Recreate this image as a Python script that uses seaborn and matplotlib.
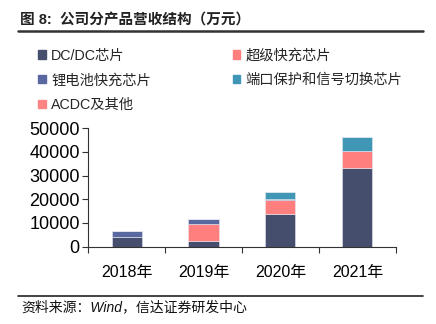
import matplotlib
matplotlib.use("Agg")
import matplotlib.pyplot as plt
import seaborn as sns
import pandas as pd
import numpy as np

sns.set_theme(style="white")
plt.rcParams['font.family'] = ['Liberation Sans', 'Noto Sans CJK SC', 'DejaVu Sans']

years = ["2018年", "2019年", "2020年", "2021年"]
series_names = ["DC/DC芯片", "锂电池快充芯片", "ACDC及其他", "超级快充芯片", "端口保护和信号切换芯片"]
dcdc = [4000, 2450, 13700, 33100]
superfast = [0, 7050, 6000, 7300]
lithium = [2700, 2000, 600, 0]
port = [0, 0, 2700, 5800]
acdc = [0, 0, 0, 0]
colors = {"DC/DC芯片": "#464E6E", "超级快充芯片": "#FF7F7F", "锂电池快充芯片": "#5A68A0",
          "端口保护和信号切换芯片": "#3F97B5", "ACDC及其他": "#FF8585"}

stack_order = [("DC/DC芯片", dcdc), ("超级快充芯片", superfast), ("锂电池快充芯片", lithium),
               ("端口保护和信号切换芯片", port), ("ACDC及其他", acdc)]

fig = plt.figure(figsize=(4.36, 3.24), dpi=100)
ax = fig.add_axes([0.202, 0.239, 0.706, 0.365])

bottom = np.zeros(len(years))
handles = {}
for name, vals in stack_order:
    df = pd.DataFrame({"year": years, "value": vals})
    sns.barplot(data=df, x="year", y="value", ax=ax, color=colors[name], width=0.39,
                bottom=bottom, edgecolor="#E6E8F0", linewidth=0.4, saturation=1, errorbar=None)
    bottom = bottom + np.array(vals)
    handles[name] = plt.Rectangle((0, 0), 1, 1, color=colors[name])

ax.set_ylim(0, 50000)
ax.set_xlim(-0.5, 3.5)
ax.set_yticks(np.arange(0, 50001, 10000))
ax.set_xlabel("")
ax.set_ylabel("")
ax.tick_params(axis='y', labelsize=13, length=4, width=0.8, color="#333333", pad=2, colors="#000000")
ax.tick_params(axis='x', labelsize=11.5, length=0, pad=13, colors="#000000")
ax.set_xticks(np.arange(-0.5, 3.6, 1), minor=True)
ax.tick_params(axis='x', which='minor', length=4, width=0.8, color="#333333", bottom=True)
ax.tick_params(axis='y', left=True, color="#333333")
for s in ["top", "right"]:
    ax.spines[s].set_visible(False)
for s in ["left", "bottom"]:
    ax.spines[s].set_color("#333333")
    ax.spines[s].set_linewidth(0.8)

leg = fig.legend([handles[n] for n in series_names], series_names, ncol=2,
                 loc="upper left", bbox_to_anchor=(0.075, 0.868), frameon=False,
                 fontsize=10.3, handlelength=0.55, handleheight=0.55, handletextpad=0.35,
                 columnspacing=5.7, labelspacing=0.75, borderaxespad=0)

fig.text(0.045, 0.937, "图 8:  公司分产品营收结构（万元）", fontsize=10.5, fontweight="bold",
         color="#222222", ha="left", va="center")
fig.add_artist(plt.Line2D([0.041, 0.97], [0.903, 0.903], color="#333333", linewidth=1.8,
                          transform=fig.transFigure))
fig.add_artist(plt.Line2D([0.041, 0.97], [0.085, 0.085], color="#222222", linewidth=1.2,
                          transform=fig.transFigure))
fig.text(0.048, 0.052, "资料来源：Wind，信达证券研发中心", fontsize=10, style="italic",
         color="#111111", ha="left", va="center")

fig.savefig("out.png", dpi=100)
